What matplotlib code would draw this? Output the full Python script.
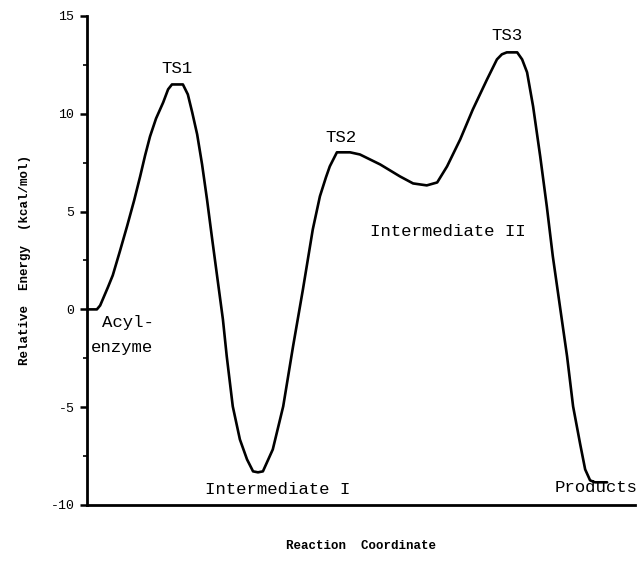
import matplotlib
matplotlib.use("Agg")
import matplotlib.pyplot as plt
import numpy as np
from matplotlib.ticker import MultipleLocator

# reaction profile (arbitrary reaction coordinate 0-100)
coord = [0.0, 1.8, 2.4, 3.8, 4.7, 6.0, 7.3, 8.6, 9.7, 10.6, 11.5, 12.6,
         13.9, 14.8, 15.5, 17.5, 18.4, 19.2, 20.1, 21.0, 21.9, 22.8, 23.7,
         24.8, 25.5, 26.6, 27.9, 29.2, 30.3, 31.2, 32.1, 33.9, 35.8, 37.6,
         39.4, 41.2, 42.5, 43.6, 44.3, 45.6, 48.0, 49.8, 53.5, 57.1, 59.5,
         62.0, 63.9, 65.7, 68.1, 70.4, 73.0, 74.8, 75.7, 76.6, 78.5, 79.4,
         80.3, 81.4, 82.7, 83.9, 85.0, 86.3, 87.6, 88.7, 90.0, 90.9, 91.8,
         92.7, 94.9]
energy = [0.00, 0.00, 0.20, 1.12, 1.74, 2.97, 4.24, 5.57, 6.80, 7.87, 8.84,
          9.76, 10.58, 11.25, 11.50, 11.50, 10.99, 10.07, 8.95, 7.41, 5.62,
          3.68, 1.79, -0.51, -2.40, -4.96, -6.65, -7.67, -8.28, -8.33, -8.28,
          -7.16, -4.96, -1.89, 1.02, 4.09, 5.78, 6.75, 7.31, 8.03, 8.03, 7.92,
          7.41, 6.80, 6.44, 6.34, 6.49, 7.31, 8.69, 10.22, 11.76, 12.78,
          13.04, 13.14, 13.14, 12.78, 12.12, 10.38, 7.82, 5.27, 2.71, 0.15,
          -2.40, -4.96, -6.90, -8.18, -8.74, -8.84, -8.84]

# state labels: (text, x, y, horizontal alignment)
labels = [("TS1", 16.4, 12.3, "center"),
          ("TS2", 46.3, 8.8, "center"),
          ("TS3", 76.6, 14.0, "center"),
          ("Intermediate II", 51.6, 4.0, "left"),
          ("Acyl-", 2.7, -0.66, "left"),
          ("enzyme", 0.7, -1.94, "left"),
          ("Intermediate I", 21.5, -9.2, "left"),
          ("Products", 85.4, -9.1, "left")]

yticks = [-10, -5, 0, 5, 10, 15]

plt.rcParams["font.family"] = ["Liberation Mono", "DejaVu Sans Mono"]
plt.rcParams["axes.unicode_minus"] = False

fig = plt.figure(figsize=(6.43, 5.65), dpi=100)
ax = fig.add_axes([0.1353, 0.1062, 0.8523, 0.8655])

ax.plot(coord, energy, color="black", linewidth=1.9,
        solid_joinstyle="round", solid_capstyle="round")

for txt, x, y, ha in labels:
    ax.text(x, y, txt, ha=ha, va="center", fontsize=12.5, clip_on=False)

ax.set_xlim(0, 100)
ax.set_ylim(-10, 15)
ax.set_yticks(yticks)
ax.yaxis.set_minor_locator(MultipleLocator(2.5))
ax.set_xticks([])

for side in ["top", "right"]:
    ax.spines[side].set_visible(False)
for side in ["left", "bottom"]:
    ax.spines[side].set_linewidth(2.0)

ax.tick_params(axis="y", which="major", direction="out", length=5, width=1.8,
               labelsize=9.5, pad=4)
ax.tick_params(axis="y", which="minor", direction="out", length=3, width=1.2)

ax.set_xlabel("Reaction  Coordinate", fontsize=9, fontweight="bold", labelpad=25)
ax.set_ylabel("Relative  Energy  (kcal/mol)", fontsize=9, fontweight="bold",
              labelpad=14)

fig.savefig("out.png", dpi=100)
